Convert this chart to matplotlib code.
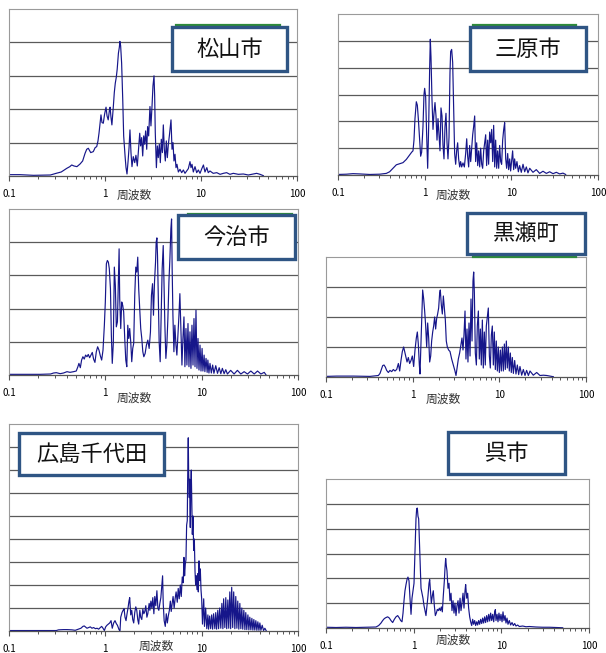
"""Fourier spectra of ground motion records at six sites (log frequency axis)."""
import matplotlib
matplotlib.use("Agg")
import matplotlib.pyplot as plt
from matplotlib.patches import Rectangle
from matplotlib.lines import Line2D
from matplotlib.ticker import LogLocator, NullFormatter, FixedLocator

plt.rcParams["font.family"] = ["Noto Sans CJK JP", "DejaVu Sans"]

W, H = 606, 653

XTICKS = [0.1, 1, 10, 100]
XTICK_LABELS = ["0.1", "1", "10", "100"]
XLABEL = "周波数"

# --- spectra: frequency [Hz], amplitude [grid units] ---
MATSUYAMA_FREQ = [
    0.10, 0.13, 0.18, 0.27, 0.31, 0.35, 0.40, 0.43, 0.45, 0.475, 0.51, 0.55, 0.585,
    0.62, 0.645, 0.67, 0.71, 0.755, 0.79, 0.82, 0.845, 0.866, 0.887, 0.908, 0.93,
    0.96, 0.99, 1.025, 1.05, 1.08, 1.11, 1.13, 1.155, 1.18, 1.22, 1.25, 1.28, 1.31,
    1.34, 1.38, 1.41, 1.43, 1.455, 1.49, 1.53, 1.565, 1.62, 1.655, 1.695, 1.74,
    1.78, 1.82, 1.865, 1.91, 1.97, 2.04, 2.10, 2.17, 2.24, 2.30, 2.35, 2.41, 2.47,
    2.53, 2.59, 2.65, 2.72, 2.78, 2.85, 2.94, 3.01, 3.09, 3.16, 3.24, 3.29, 3.34,
    3.43, 3.51, 3.59, 3.68, 3.77, 3.86, 3.96, 4.05, 4.15, 4.25, 4.35, 4.46, 4.57,
    4.68, 4.79, 4.87, 4.99, 5.11, 5.23, 5.36, 5.49, 5.62, 5.81, 6.04, 6.29, 6.55,
    6.81, 7.09, 7.38, 7.68, 7.87, 8.06, 8.32, 8.66, 9.02, 9.38, 9.77, 10.2, 10.6,
    11.0, 11.5, 11.9, 12.4, 13.4, 14.6, 15.8, 17.1, 18.5, 20.0, 21.7, 24.5, 27.6,
    31.1, 35.1, 38.0, 41.2, 44.6,
]
MATSUYAMA_AMP = [
    0.04, 0.04, 0.02, 0.03, 0.08, 0.12, 0.23, 0.28, 0.33, 0.30, 0.28, 0.36, 0.45,
    0.68, 0.80, 0.83, 0.70, 0.73, 0.85, 0.88, 1.05, 1.28, 1.55, 1.83, 1.60,
    1.58, 1.85, 2.06, 1.80, 1.68, 1.95, 2.06, 1.75, 1.53, 2.06, 2.50, 2.78, 2.95,
    3.20, 3.68, 3.85, 4.03, 3.90, 3.38, 2.30, 1.20, 0.58, 0.25, 0.06, 0.45,
    0.85, 1.38, 0.70, 0.28, 0.58, 0.40, 0.62, 0.30, 0.85, 1.28, 0.90, 1.15, 0.60,
    1.20, 0.95, 1.35, 0.80, 1.48, 1.20, 2.08, 1.50, 2.10, 2.70, 3.00, 2.40, 1.30,
    0.25, 0.90, 0.55, 0.95, 0.40, 1.10, 0.70, 1.53, 0.80, 0.45, 1.05, 0.55, 0.95,
    1.20, 1.50, 1.68, 0.80, 1.00, 0.45, 0.65, 0.25, 0.35, 0.12, 0.20, 0.10, 0.18,
    0.08, 0.15, 0.22, 0.43, 0.25, 0.35, 0.12, 0.28, 0.10, 0.18, 0.08, 0.22, 0.33,
    0.12, 0.25, 0.10, 0.15, 0.08, 0.10, 0.05, 0.08, 0.10, 0.05, 0.08, 0.05, 0.06,
    0.03, 0.06, 0.08, 0.05, 0.01,
]

MIHARA_FREQ = [
    0.10, 0.125, 0.149, 0.178, 0.232, 0.303, 0.361, 0.394, 0.431, 0.471, 0.515,
    0.562, 0.614, 0.671, 0.708, 0.733, 0.753, 0.773, 0.801, 0.823, 0.845, 0.875,
    0.899, 0.923, 0.956, 0.982, 1.0, 1.027, 1.054, 1.083, 1.112, 1.142, 1.162,
    1.183, 1.215, 1.248, 1.281, 1.316, 1.351, 1.388, 1.425, 1.463, 1.503, 1.543,
    1.585, 1.628, 1.671, 1.716, 1.762, 1.811, 1.858, 1.909, 1.959, 1.995, 2.049,
    2.104, 2.161, 2.218, 2.279, 2.339, 2.402, 2.466, 2.535, 2.600, 2.673, 2.767,
    2.871, 2.972, 3.055, 3.133, 3.218, 3.304, 3.396, 3.483, 3.581, 3.673, 3.776,
    3.873, 3.981, 4.093, 4.198, 4.315, 4.426, 4.550, 4.667, 4.797, 4.920, 5.058,
    5.188, 5.333, 5.470, 5.623, 5.781, 5.929, 6.095, 6.252, 6.427, 6.592, 6.776,
    6.950, 7.145, 7.328, 7.534, 7.727, 7.943, 8.166, 8.375, 8.610, 8.831, 9.078,
    9.311, 9.572, 9.817, 10.09, 10.35, 10.64, 10.91, 11.22, 11.61, 12.05, 12.47,
    13.03, 13.64, 14.26, 14.89, 15.56, 16.29, 17.78, 19.41, 21.23, 23.19, 25.35,
    27.69, 30.27, 33.04, 36.14, 39.45, 42.36,
]
MIHARA_AMP = [
    0.02, 0.03, 0.05, 0.04, 0.02, 0.03, 0.06, 0.12, 0.25, 0.38, 0.42,
    0.46, 0.58, 0.75, 0.85, 0.90, 1.30, 2.10, 2.73, 2.60, 2.10, 1.30,
    0.70, 0.85, 1.80, 3.00, 3.23, 2.90, 1.50, 0.25, 1.80, 4.00, 5.06,
    4.40, 2.80, 1.70, 2.30, 2.70, 2.20, 1.30, 2.10, 1.50, 0.90, 2.50,
    2.20, 1.10, 0.60, 1.80, 2.30, 1.20, 0.60, 1.40, 3.80, 4.60, 4.68,
    4.20, 2.40, 0.80, 0.40, 0.90, 1.20, 0.60, 0.30, 0.50, 0.30, 0.45,
    0.30, 0.80, 1.35, 0.70, 0.30, 1.10, 0.50, 1.00, 1.50, 1.80, 2.20,
    0.50, 1.20, 0.35, 0.90, 0.30, 1.00, 0.40, 0.25, 0.90, 1.20, 1.50,
    0.35, 1.30, 0.40, 1.60, 1.20, 1.70, 0.50, 1.85, 0.30, 1.30, 0.25,
    0.90, 0.25, 1.10, 0.50, 0.40, 1.30, 1.70, 1.95, 0.60, 0.25, 0.80,
    0.20, 0.60, 0.15, 0.55, 0.90, 0.20, 0.60, 0.25, 0.50, 0.12, 0.35,
    0.10, 0.40, 0.12, 0.30, 0.08, 0.25, 0.10, 0.20, 0.06, 0.14, 0.06,
    0.12, 0.05, 0.10, 0.04, 0.07, 0.02,
]

IMABARI_FREQ = [
    0.10, 0.153, 0.21, 0.27, 0.29, 0.31, 0.34, 0.368, 0.40, 0.43, 0.468, 0.499,
    0.519, 0.532, 0.55, 0.567, 0.585, 0.604, 0.624, 0.645, 0.665, 0.687, 0.71,
    0.732, 0.755, 0.78, 0.806, 0.832, 0.859, 0.887, 0.916, 0.946, 0.977, 1.00,
    1.025, 1.05, 1.075, 1.10, 1.13, 1.155, 1.18, 1.21, 1.24, 1.27, 1.30, 1.335,
    1.366, 1.39, 1.41, 1.445, 1.48, 1.515, 1.55, 1.59, 1.63, 1.67, 1.71, 1.75,
    1.79, 1.835, 1.88, 1.925, 1.97, 2.02, 2.07, 2.12, 2.17, 2.22, 2.28, 2.33,
    2.39, 2.45, 2.51, 2.59, 2.67, 2.76, 2.85, 2.94, 3.01, 3.09, 3.16, 3.24, 3.32,
    3.37, 3.43, 3.48, 3.54, 3.62, 3.71, 3.80, 3.89, 3.99, 4.05, 4.15, 4.25, 4.35,
    4.46, 4.57, 4.68, 4.79, 4.87, 4.94, 5.03, 5.15, 5.27, 5.41, 5.53, 5.67, 5.81,
    5.94, 6.10, 6.24, 6.39, 6.55, 6.70, 6.87, 7.03, 7.21, 7.38, 7.56, 7.74, 7.93,
    8.13, 8.32, 8.53, 8.73, 8.94, 9.16, 9.38, 9.61, 9.84, 10.1, 10.3, 10.6, 10.8,
    11.1, 11.4, 11.6, 11.9, 12.2, 12.6, 13.0, 13.4, 14.0, 14.6, 15.2, 15.8, 16.4,
    17.1, 17.8, 18.5, 20.0, 21.7, 23.5, 25.5, 27.6, 29.9, 32.4, 35.1, 38.0, 41.2,
    44.6, 46.4,
]
IMABARI_AMP = [
    0.02, 0.02, 0.02, 0.03, 0.06, 0.07, 0.04, 0.06, 0.10, 0.08, 0.10, 0.12,
    0.25, 0.35, 0.22, 0.45, 0.55, 0.48, 0.60, 0.55, 0.62, 0.52, 0.60,
    0.68, 0.48, 0.38, 0.70, 0.85, 0.75, 0.58, 0.45, 0.75, 1.50, 2.20,
    3.35, 3.45, 3.40, 3.20, 2.60, 1.20, 0.35, 0.95, 3.25, 2.70, 1.45, 1.60,
    2.80, 3.80, 2.30, 1.40, 2.20, 2.10, 1.90, 1.10, 0.45, 0.25, 1.50, 1.10,
    1.40, 1.00, 0.40, 0.80, 0.95, 2.40, 3.25, 3.10, 3.55, 2.60, 1.90, 1.40,
    1.10, 0.70, 0.55, 0.65, 0.90, 1.05, 0.80, 1.30, 2.40, 2.75, 1.80, 2.80, 3.40,
    4.00, 4.13, 3.60, 2.40, 1.00, 0.40, 1.80, 3.20, 3.90, 3.00, 1.50, 0.50, 0.90,
    1.70, 2.80, 3.50, 4.40, 4.70, 3.20, 1.80, 0.70, 1.50, 0.90, 0.60, 1.20, 1.80,
    2.45, 1.30, 0.30, 1.10, 1.75, 0.25, 1.40, 0.30, 1.55, 0.25, 1.30, 0.20, 1.50,
    0.30, 1.70, 0.25, 1.95, 0.20, 1.10, 0.15, 0.90, 0.12, 0.80, 0.12, 0.60, 0.10,
    0.50, 0.08, 0.45, 0.06, 0.35, 0.06, 0.30, 0.05, 0.28, 0.05, 0.22, 0.04, 0.20,
    0.04, 0.16, 0.03, 0.14, 0.03, 0.14, 0.03, 0.10, 0.03, 0.12, 0.03, 0.12, 0.03,
    0.08, 0.01,
]

KUROSE_FREQ = [
    0.10, 0.133, 0.207, 0.322, 0.402, 0.42, 0.435, 0.451, 0.467, 0.484, 0.501,
    0.524, 0.547, 0.573, 0.598, 0.625, 0.654, 0.684, 0.708, 0.733, 0.76, 0.787,
    0.809, 0.83, 0.861, 0.891, 0.923, 0.957, 0.991, 1.027, 1.064, 1.102, 1.132,
    1.162, 1.194, 1.215, 1.248, 1.282, 1.304, 1.34, 1.375, 1.413, 1.451, 1.49,
    1.53, 1.571, 1.614, 1.656, 1.702, 1.747, 1.794, 1.841, 1.892, 1.941, 1.995,
    2.049, 2.084, 2.142, 2.199, 2.259, 2.317, 2.382, 2.443, 2.512, 2.600, 2.697,
    2.818, 2.944, 3.076, 3.162, 3.251, 3.365, 3.484, 3.611, 3.707, 3.808, 3.909,
    4.018, 4.121, 4.236, 4.345, 4.467, 4.592, 4.710, 4.842, 4.966, 5.058, 5.152,
    5.284, 5.433, 5.572, 5.728, 5.875, 6.039, 6.194, 6.368, 6.531, 6.714, 6.887,
    7.079, 7.278, 7.464, 7.674, 7.871, 8.091, 8.299, 8.531, 8.750, 8.995, 9.226,
    9.484, 9.727, 10.0, 10.28, 10.54, 10.84, 11.12, 11.43, 11.72, 12.05, 12.36,
    12.71, 13.03, 13.40, 13.74, 14.13, 14.52, 15.03, 15.56, 16.13, 16.71, 17.30,
    18.11, 18.92, 19.77, 20.65, 21.63, 22.59, 24.66, 26.98, 29.44, 32.21, 35.16,
    38.46, 41.98,
]
KUROSE_AMP = [
    0.02, 0.03, 0.03, 0.02, 0.05, 0.12, 0.25, 0.38, 0.40, 0.33, 0.22,
    0.15, 0.22, 0.18, 0.25, 0.20, 0.25, 0.45, 0.20, 0.55, 0.85, 1.00,
    0.85, 0.70, 0.50, 0.65, 0.45, 0.55, 0.70, 0.35, 0.90, 1.30, 1.50,
    1.10, 0.40, 0.10, 1.20, 2.40, 2.90, 2.60, 2.20, 1.70, 1.00, 1.80,
    1.30, 0.50, 0.70, 1.20, 1.50, 1.70, 2.00, 1.60, 1.95, 2.10, 2.30,
    2.80, 2.90, 2.40, 2.10, 2.70, 2.30, 1.90, 1.20, 1.00, 0.90, 0.85,
    0.60, 0.40, 0.20, 0.05, 0.30, 0.60, 0.80, 1.10, 1.30, 0.90, 1.40,
    2.20, 0.60, 1.60, 0.50, 1.80, 0.70, 2.60, 1.20, 3.20, 3.50, 2.80,
    0.80, 0.40, 1.70, 2.20, 0.60, 1.60, 0.40, 1.90, 0.30, 1.50, 0.40,
    1.70, 2.00, 2.30, 0.70, 0.30, 1.40, 1.70, 0.40, 1.50, 0.25, 1.20,
    0.20, 1.00, 0.15, 0.90, 0.20, 1.00, 0.20, 1.10, 0.25, 1.20, 0.30,
    1.00, 0.20, 0.80, 0.15, 0.65, 0.12, 0.55, 0.10, 0.40, 0.08, 0.35,
    0.06, 0.25, 0.05, 0.22, 0.05, 0.20, 0.06, 0.15, 0.05, 0.06, 0.05,
    0.03, 0.01,
]

CHIYODA_FREQ = [
    0.10, 0.18, 0.27, 0.31, 0.327, 0.368, 0.40, 0.45, 0.487, 0.527, 0.558, 0.585,
    0.604, 0.624, 0.645, 0.67, 0.698, 0.726, 0.755, 0.79, 0.82, 0.853, 0.887,
    0.916, 0.946, 0.977, 1.008, 1.04, 1.075, 1.11, 1.146, 1.18, 1.22, 1.26, 1.30,
    1.335, 1.39, 1.42, 1.445, 1.49, 1.53, 1.565, 1.60, 1.64, 1.68, 1.72, 1.76,
    1.79, 1.835, 1.88, 1.925, 1.97, 2.02, 2.07, 2.12, 2.17, 2.22, 2.28, 2.33,
    2.39, 2.45, 2.51, 2.57, 2.63, 2.70, 2.76, 2.85, 2.90, 2.97, 3.04, 3.11, 3.19,
    3.26, 3.34, 3.43, 3.51, 3.59, 3.68, 3.77, 3.86, 3.93, 3.99, 4.08, 4.19, 4.29,
    4.40, 4.50, 4.62, 4.73, 4.83, 4.94, 5.05, 5.18, 5.30, 5.43, 5.58, 5.71, 5.85,
    6.00, 6.14, 6.29, 6.44, 6.55, 6.65, 6.76, 6.87, 6.98, 7.09, 7.15, 7.26, 7.32,
    7.44, 7.50, 7.62, 7.68, 7.80, 7.93, 8.00, 8.13, 8.26, 8.39, 8.53, 8.66, 8.79,
    8.94, 9.08, 9.23, 9.38, 9.53, 9.68, 9.84, 10.0, 10.2, 10.5, 10.7, 11.0, 11.3,
    11.6, 11.8, 12.1, 12.4, 12.7, 13.0, 13.3, 13.7, 14.0, 14.3, 14.7, 15.0, 15.4,
    15.8, 16.2, 16.6, 16.9, 17.4, 17.8, 18.2, 18.7, 19.1, 19.6, 20.0, 20.5, 21.0,
    21.5, 22.1, 22.6, 23.2, 23.7, 24.3, 24.9, 25.5, 26.1, 26.7, 27.4, 28.1, 28.7,
    29.4, 30.2, 30.9, 31.6, 32.4, 33.2, 34.0, 34.8, 35.6, 36.5, 37.4, 38.3, 39.3,
    40.2, 41.2, 42.5, 43.9, 45.3, 46.8,
]
CHIYODA_AMP = [
    0.02, 0.02, 0.02, 0.02, 0.05, 0.06, 0.06, 0.05, 0.03, 0.08, 0.12, 0.20,
    0.22, 0.17, 0.12, 0.15, 0.18, 0.12, 0.15, 0.10, 0.12, 0.08, 0.15,
    0.20, 0.12, 0.02, 0.18, 0.25, 0.30, 0.35, 0.45, 0.12, 0.35, 0.45, 0.32,
    0.25, 0.05, 0.02, 0.60, 0.80, 0.90, 0.97, 0.60, 0.45, 0.75, 1.00, 1.30,
    1.45, 0.70, 0.90, 0.50, 0.35, 0.80, 1.05, 0.90, 0.50, 0.30, 0.90, 0.60,
    0.50, 0.95, 0.75, 0.85, 1.10, 0.60, 0.75, 1.20, 0.90, 1.30, 1.00, 1.45, 0.75,
    1.50, 1.10, 1.75, 1.00, 0.90, 1.20, 1.45, 2.00, 2.40, 1.20, 0.45, 0.20, 0.75,
    0.35, 0.65, 0.90, 1.30, 0.85, 1.20, 1.50, 1.00, 1.40, 1.70, 1.25, 1.85, 1.40,
    2.00, 1.50, 2.35, 2.10, 3.20, 2.40, 2.90, 3.10, 4.60, 4.80, 6.50, 8.40, 7.00,
    5.80, 6.60, 4.50, 6.00, 7.00, 5.20, 4.20, 5.00, 3.50, 4.00, 2.60, 2.00, 2.40,
    1.80, 2.50, 1.70, 3.05, 2.20, 2.70, 1.80, 1.40, 0.30, 1.40, 0.20, 1.00, 0.10,
    0.70, 0.08, 0.65, 0.10, 0.70, 0.08, 0.75, 0.10, 0.80, 0.08, 0.90, 0.10, 1.00,
    0.12, 1.20, 0.10, 1.40, 0.15, 1.45, 0.10, 1.35, 0.12, 1.70, 0.10, 1.90, 0.15,
    1.70, 0.10, 1.50, 0.12, 1.30, 0.08, 1.20, 0.10, 1.00, 0.08, 0.90, 0.06, 0.80,
    0.06, 0.70, 0.05, 0.60, 0.05, 0.55, 0.04, 0.50, 0.04, 0.45, 0.03, 0.40, 0.03,
    0.35, 0.03, 0.25, 0.02, 0.12, 0.01,
]

KURE_FREQ = [
    0.10, 0.13, 0.169, 0.22, 0.286, 0.372, 0.399, 0.424, 0.443, 0.463, 0.483,
    0.505, 0.528, 0.551, 0.576, 0.602, 0.629, 0.657, 0.687, 0.711, 0.736, 0.756,
    0.776, 0.796, 0.818, 0.839, 0.861, 0.885, 0.908, 0.933, 0.957, 0.982, 1.009,
    1.026, 1.045, 1.063, 1.082, 1.101, 1.120, 1.140, 1.161, 1.181, 1.213, 1.245,
    1.277, 1.312, 1.346, 1.382, 1.419, 1.457, 1.496, 1.523, 1.549, 1.590, 1.633,
    1.675, 1.721, 1.767, 1.814, 1.862, 1.911, 1.963, 2.015, 2.069, 2.123, 2.178,
    2.238, 2.276, 2.317, 2.358, 2.399, 2.464, 2.529, 2.594, 2.667, 2.735, 2.812,
    2.884, 2.958, 3.040, 3.119, 3.206, 3.289, 3.381, 3.467, 3.556, 3.656, 3.750,
    3.855, 3.917, 4.027, 4.130, 4.236, 4.355, 4.467, 4.592, 4.710, 4.831, 4.966,
    5.093, 5.236, 5.370, 5.508, 5.662, 5.808, 5.970, 6.124, 6.281, 6.457, 6.622,
    6.808, 6.982, 7.178, 7.362, 7.551, 7.762, 7.962, 8.185, 8.395, 8.551, 8.690,
    8.933, 9.162, 9.397, 9.661, 9.908, 10.19, 10.45, 10.72, 11.02, 11.30, 11.61,
    11.91, 12.33, 12.77, 13.24, 13.71, 14.20, 14.69, 15.35, 16.04, 17.51, 19.10,
    20.85, 24.85, 29.61, 35.30, 42.06, 50.12,
]
KURE_AMP = [
    0.03, 0.02, 0.03, 0.02, 0.03, 0.04, 0.10, 0.20, 0.30, 0.38, 0.42,
    0.45, 0.40, 0.30, 0.22, 0.35, 0.45, 0.50, 0.40, 0.30, 0.25, 0.60,
    1.10, 1.50, 1.75, 1.95, 2.05, 1.90, 1.20, 0.55, 1.20, 1.50, 1.80,
    2.60, 3.60, 4.40, 4.80, 4.83, 4.50, 4.40, 3.60, 2.90, 1.60, 1.40,
    1.20, 0.90, 0.70, 0.50, 0.90, 1.30, 1.80, 1.95, 1.60, 1.00, 1.30,
    1.50, 0.90, 0.50, 0.60, 0.75, 0.70, 0.80, 0.70, 0.85, 0.65, 1.30,
    1.90, 2.40, 2.80, 2.50, 2.30, 1.60, 1.80, 1.10, 1.40, 0.70, 1.10,
    0.60, 1.00, 0.50, 0.90, 1.10, 0.60, 1.20, 0.70, 1.00, 1.40, 0.80,
    1.50, 1.75, 1.20, 1.40, 0.80, 0.45, 0.25, 0.10, 0.35, 0.15, 0.30,
    0.10, 0.25, 0.12, 0.30, 0.15, 0.35, 0.18, 0.40, 0.20, 0.45, 0.22,
    0.50, 0.25, 0.55, 0.28, 0.60, 0.30, 0.55, 0.25, 0.65, 0.74, 0.30,
    0.55, 0.25, 0.60, 0.30, 0.55, 0.25, 0.65, 0.30, 0.50, 0.20, 0.40,
    0.15, 0.30, 0.12, 0.22, 0.10, 0.18, 0.08, 0.12, 0.06, 0.08, 0.05,
    0.06, 0.04, 0.03, 0.03, 0.02, 0.01,
]

# (name, freq, amp, n gridline intervals, axes px box l/t/r/b,
#  name box px l/t/r/b, green accent px x0/x1/y or None,
#  xlabel x fraction, xlabel drop below axis in px)
PANELS = [
    ("松山市", MATSUYAMA_FREQ, MATSUYAMA_AMP, 5, (9, 9, 297, 176),
     (172, 27, 287, 71), (176, 280, 25), 0.434, 19),
    ("三原市", MIHARA_FREQ, MIHARA_AMP, 6, (338, 14, 598, 175),
     (470, 27, 586, 71), (473, 576, 25), 0.442, 20),
    ("今治市", IMABARI_FREQ, IMABARI_AMP, 5, (9, 209, 298, 375),
     (178, 215, 295, 259), (188, 292, 214), 0.434, 23),
    ("黒瀬町", KUROSE_FREQ, KUROSE_AMP, 4, (326, 257, 586, 377),
     (467, 213, 585, 254), (473, 576, 257), 0.45, 22),
    ("広島千代田", CHIYODA_FREQ, CHIYODA_AMP, 9, (9, 424, 298, 631),
     (19, 433, 164, 475), None, 0.51, 15),
    ("呉市", KURE_FREQ, KURE_AMP, 6, (326, 479, 589, 628),
     (448, 432, 565, 474), None, 0.483, 12),
]

LINE_COLOR = "#16168a"
GRID_COLOR = "#5a5a5a"
FRAME_COLOR = "#9a9a9a"
BOX_EDGE = "#2f5584"


def fx(px):
    return px / W


def fy(py):
    return 1 - py / H


fig = plt.figure(figsize=(W / 100, H / 100), dpi=100)

for name, freq, amp, n_grid, (l, t, r, b), box, accent, lab_x, lab_dy in PANELS:
    ax = fig.add_axes([fx(l), fy(b), fx(r - l), (b - t) / H])
    ax.plot(freq, amp, color=LINE_COLOR, linewidth=0.85)
    ax.set_xscale("log")
    ax.set_xlim(0.1, 100)
    ax.set_ylim(0, n_grid)

    ax.yaxis.set_major_locator(FixedLocator(range(1, n_grid)))
    ax.grid(axis="y", color=GRID_COLOR, linewidth=0.9)
    ax.tick_params(axis="y", length=0, labelleft=False)

    ax.set_xticks(XTICKS)
    ax.set_xticklabels(XTICK_LABELS)
    ax.xaxis.set_minor_locator(LogLocator(base=10, subs=range(2, 10)))
    ax.xaxis.set_minor_formatter(NullFormatter())
    ax.tick_params(axis="x", which="major", direction="out", length=3.5,
                   width=0.8, color="#555555", labelsize=7, pad=6)
    ax.tick_params(axis="x", which="minor", direction="out", length=2.5,
                   width=0.7, color="#555555")

    for side in ("top", "right", "left"):
        ax.spines[side].set_color(FRAME_COLOR)
        ax.spines[side].set_linewidth(0.8)
    ax.spines["bottom"].set_color("#555555")
    ax.spines["bottom"].set_linewidth(0.9)

    ax.annotate(XLABEL, xy=(lab_x, 0), xycoords="axes fraction",
                xytext=(0, -lab_dy * 0.72), textcoords="offset points",
                ha="center", va="center", fontsize=8.5, color="#333333")

    # name label box
    bl, bt, br, bb = box
    if accent is not None:
        x0, x1, yy = accent
        fig.add_artist(Line2D([fx(x0), fx(x1)], [fy(yy), fy(yy)],
                              color="#2e8b3a", linewidth=1.6, zorder=4))
    fig.add_artist(Rectangle((fx(bl), fy(bb)), fx(br - bl), (bb - bt) / H,
                             facecolor="white", edgecolor=BOX_EDGE,
                             linewidth=2.4, zorder=5))
    fig.text(fx((bl + br) / 2), fy((bt + bb) / 2), name, ha="center",
             va="center", fontsize=16, color="#111111", zorder=6)

fig.savefig("out.png", dpi=100)
